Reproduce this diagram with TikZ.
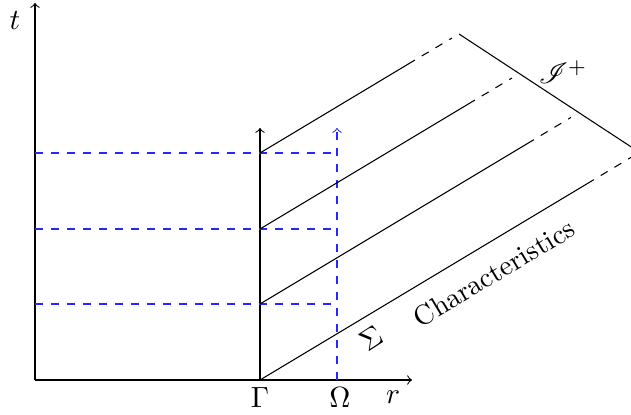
\documentclass[tikz,border=0pt]{standalone}
\usepackage{mathrsfs}
\begin{document}
\begin{tikzpicture}[x=0.375pt,y=-0.375pt,
  axisline/.style={->,black},
  guide/.style={blue!85,dashed},
  charsolid/.style={black},
  chardash/.style={black,dashed},
  lbl/.style={inner sep=1pt,font=\fontsize{11}{13}\selectfont}]
\clip (0,0) rectangle (631,415);
% axes
\coordinate (O) at (35,380);
\coordinate (ttip) at (35,3);
\coordinate (rtip) at (412,380);
\coordinate (G) at (260,380);
\coordinate (Gtip) at (260,128);
\coordinate (W) at (337,380);
\coordinate (Wtip) at (337,128);
\draw[axisline] (O) -- (ttip);
\draw[axisline] (O) -- (rtip);
\draw[axisline] (G) -- (Gtip);
\draw[guide,->] (W) -- (Wtip);
% horizontal guides
\coordinate (h1a) at (35,153); \coordinate (h1b) at (337,153);
\coordinate (h2a) at (35,229); \coordinate (h2b) at (337,229);
\coordinate (h3a) at (35,304); \coordinate (h3b) at (337,304);
\draw[guide] (h1a) -- (h1b);
\draw[guide] (h2a) -- (h2b);
\draw[guide] (h3a) -- (h3b);
% characteristics
\coordinate (c1s) at (260,153); \coordinate (c1m) at (408,64.2); \coordinate (c1e) at (452,38);
\coordinate (c2s) at (260,229); \coordinate (c2m) at (468,104.2); \coordinate (c2e) at (512,78);
\coordinate (c3s) at (260,304); \coordinate (c3m) at (527,143.8); \coordinate (c3e) at (571,117.4);
\coordinate (c4s) at (260,380); \coordinate (c4m) at (587,183.8); \coordinate (c4e) at (631,157.4);
\foreach \i in {1,2,3,4}{
  \draw[charsolid] (c\i s) -- (c\i m);
  \draw[chardash] (c\i m) -- (c\i e);
}
% scri
\coordinate (s1) at (459,34);
\coordinate (s2) at (645,156);
\draw (s1) -- (s2);
% labels
\node[lbl] (tl) at (15,21) {$t$};
\node[lbl] (gl) at (260,398) {$\Gamma$};
\node[lbl] (wl) at (340,398) {$\Omega$};
\node[lbl] (rl) at (393,397) {$r$};
\node[lbl,rotate=33] (sl) at (371,338) {$\Sigma$};
\node[inner sep=1pt,rotate=31,font=\fontsize{10.5}{12}\selectfont] (chl) at (494,273) {Characteristics};
\node[lbl] (scl) at (563,72) {$\mathscr{I}^+$};
\end{tikzpicture}
\end{document}
